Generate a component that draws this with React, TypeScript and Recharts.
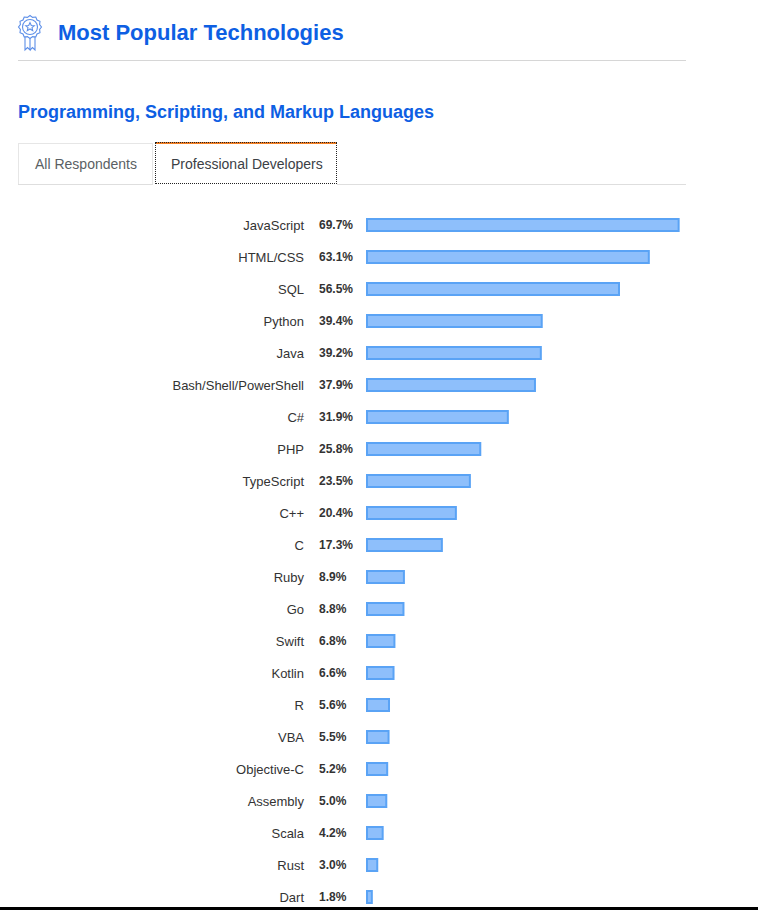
import { Bar, BarChart, XAxis, YAxis } from 'recharts';

const languages = [
  'JavaScript',
  'HTML/CSS',
  'SQL',
  'Python',
  'Java',
  'Bash/Shell/PowerShell',
  'C#',
  'PHP',
  'TypeScript',
  'C++',
  'C',
  'Ruby',
  'Go',
  'Swift',
  'Kotlin',
  'R',
  'VBA',
  'Objective-C',
  'Assembly',
  'Scala',
  'Rust',
  'Dart',
];

const shares = [
  69.7, 63.1, 56.5, 39.4, 39.2, 37.9, 31.9, 25.8, 23.5, 20.4, 17.3, 8.9, 8.8, 6.8, 6.6, 5.6, 5.5, 5.2,
  5.0, 4.2, 3.0, 1.8,
];

const tabs = ['All Respondents', 'Professional Developers'];

const data = languages.map((name, i) => ({ name, share: shares[i] }));

const FONT = '"Liberation Sans", Arial, Helvetica, sans-serif';
const BLUE = '#0e5fe3';

/* ------------------------------------------------------------------ */
/*  Axis tick: language name + bold percentage                        */
/* ------------------------------------------------------------------ */

function LangTick(props: any) {
  const { y, payload } = props;
  const i = languages.indexOf(String(payload.value));
  return (
    <g>
      <text x={304} y={y} dy="0.355em" textAnchor="end" fontSize={13} fill="#333" fontFamily={FONT}>
        {payload.value}
      </text>
      <text x={319} y={y} dy="0.355em" textAnchor="start" fontSize={12} fontWeight={700} fill="#333" fontFamily={FONT}>
        {shares[i].toFixed(1)}%
      </text>
    </g>
  );
}

function RibbonIcon() {
  return (
    <svg width={28} height={38} viewBox="0 0 28 38" style={{ position: 'absolute', left: 16, top: 14 }}>
      <g fill="none" stroke="#5d8fe8" strokeWidth={1.1}>
        <path d="M14 1.5 L16.6 3.4 L19.8 3 L21 6 L24 7.3 L23.6 10.5 L25.5 13 L23.6 15.5 L24 18.7 L21 20 L19.8 23 L16.6 22.6 L14 24.5 L11.4 22.6 L8.2 23 L7 20 L4 18.7 L4.4 15.5 L2.5 13 L4.4 10.5 L4 7.3 L7 6 L8.2 3 L11.4 3.4 Z" />
        <circle cx={14} cy={13} r={7.5} />
        <path d="M14 8.6 L15.3 11.5 L18.3 11.7 L16 13.7 L16.7 16.6 L14 15 L11.3 16.6 L12 13.7 L9.7 11.7 L12.7 11.5 Z" />
        <path d="M9 22.5 L9 36 L11.5 33.5 L14 36 L14 24.5" />
        <path d="M19 22.5 L19 36 L16.5 33.5 L14 36" />
      </g>
    </svg>
  );
}

export default function App() {
  return (
    <div
      style={{
        position: 'fixed',
        left: 0,
        top: 0,
        width: 758,
        height: 910,
        overflow: 'hidden',
        background: '#fff',
        fontFamily: FONT,
      }}
    >
      <RibbonIcon />
      <div
        style={{
          position: 'absolute',
          left: 58,
          top: 22,
          fontSize: 22,
          lineHeight: '22px',
          fontWeight: 700,
          color: BLUE,
          whiteSpace: 'nowrap',
        }}
      >
        Most Popular Technologies
      </div>
      <div style={{ position: 'absolute', left: 18, top: 60, width: 668, height: 1, background: '#d6d6d6' }} />

      <div
        style={{
          position: 'absolute',
          left: 18,
          top: 103,
          fontSize: 18,
          lineHeight: '18px',
          fontWeight: 700,
          color: BLUE,
          whiteSpace: 'nowrap',
        }}
      >
        Programming, Scripting, and Markup Languages
      </div>

      {/* tabs */}
      <div
        style={{
          position: 'absolute',
          left: 18,
          top: 143,
          width: 135,
          height: 41,
          boxSizing: 'border-box',
          border: '1px solid #e6e6e6',
          borderBottom: 'none',
          display: 'flex',
          alignItems: 'center',
          paddingLeft: 16,
          fontSize: 14,
          color: '#5a5f64',
        }}
      >
        {tabs[0]}
      </div>
      <div
        style={{
          position: 'absolute',
          left: 155,
          top: 142,
          width: 182,
          height: 42,
          boxSizing: 'border-box',
          borderTop: '2px solid #f48024',
          display: 'flex',
          alignItems: 'center',
          paddingLeft: 16,
          fontSize: 14,
          color: '#3b4045',
          outline: '1px dotted #222',
          outlineOffset: -1,
        }}
      >
        {tabs[1]}
      </div>
      <div style={{ position: 'absolute', left: 337, top: 184, width: 349, height: 1, background: '#dedede' }} />
      <div style={{ position: 'absolute', left: 18, top: 184, width: 135, height: 1, background: '#dedede' }} />

      <div style={{ position: 'absolute', left: 0, top: 209 }}>
        <BarChart
          width={680}
          height={704}
          data={data}
          layout="vertical"
          margin={{ top: 0, right: 0, bottom: 0, left: 0 }}
          barCategoryGap={0}
        >
          <XAxis type="number" domain={[0.73, 70]} hide />
          <YAxis
            type="category"
            dataKey="name"
            width={367}
            axisLine={false}
            tickLine={false}
            interval={0}
            tick={<LangTick />}
          />
          <Bar
            dataKey="share"
            barSize={12}
            fill="#8ebffb"
            stroke="#5aa3f5"
            strokeWidth={2}
            isAnimationActive={false}
          />
        </BarChart>
      </div>

      <div style={{ position: 'absolute', left: 0, top: 907, width: 758, height: 3, background: '#000' }} />
    </div>
  );
}
